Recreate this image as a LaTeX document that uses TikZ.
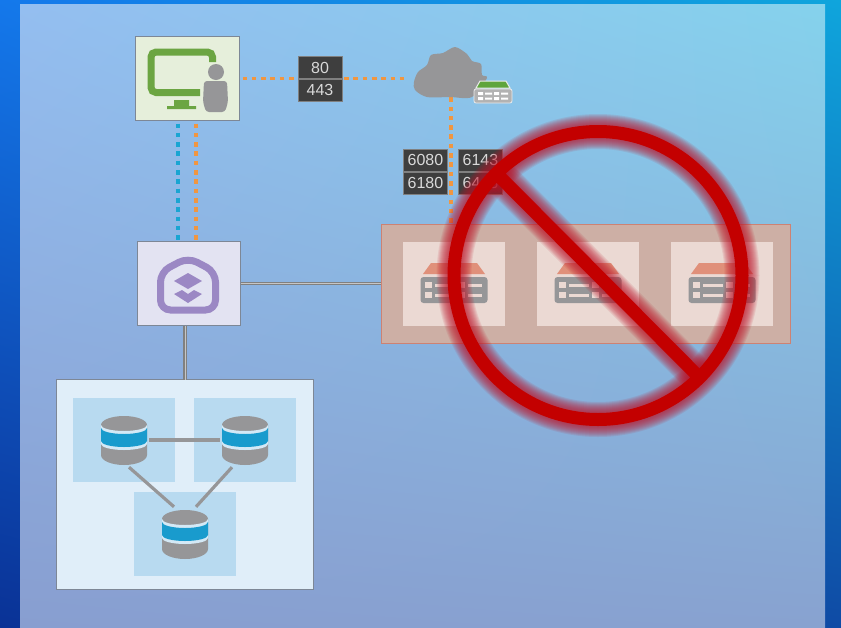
\documentclass[tikz,border=0pt]{standalone}
\usepackage{fontspec}
\setmainfont{Liberation Sans}
\usetikzlibrary{shadings}
\definecolor{outerTL}{RGB}{20,120,235}
\definecolor{outerTR}{RGB}{15,165,220}
\definecolor{outerBL}{RGB}{10,50,150}
\definecolor{outerBR}{RGB}{15,75,165}
\definecolor{panelTL}{RGB}{148,190,240}
\definecolor{panelTR}{RGB}{133,210,236}
\definecolor{panelBL}{RGB}{136,158,208}
\definecolor{panelBR}{RGB}{136,162,208}
\definecolor{iconGray}{RGB}{150,150,152}
\definecolor{edgeGray}{RGB}{125,135,150}
\definecolor{portDark}{RGB}{62,62,62}
\definecolor{portOrange}{RGB}{240,150,65}
\definecolor{portBlue}{RGB}{25,165,210}
\definecolor{dbBlue}{RGB}{25,155,205}
\definecolor{noRed}{RGB}{195,0,0}
\definecolor{glowRed}{RGB}{190,20,40}
\definecolor{tileRed}{RGB}{235,217,211}
\definecolor{roofRed}{RGB}{224,144,122}
\definecolor{tileDb}{RGB}{184,218,240}
\definecolor{clientFill}{RGB}{230,239,219}
\definecolor{gatewayFill}{RGB}{227,227,242}
\definecolor{clusterFill}{RGB}{205,175,165}
\definecolor{clusterEdge}{RGB}{205,130,115}
\definecolor{panelFill}{RGB}{224,238,249}
\definecolor{screenGreen}{RGB}{108,165,66}
\definecolor{roofGreen}{RGB}{95,165,60}
\definecolor{shieldPurple}{RGB}{155,136,196}
\tikzset{
  boxnode/.style={draw=edgeGray, line width=.8pt, inner sep=0pt, outer sep=0pt},
  tile/.style={inner sep=0pt, minimum width=102pt, minimum height=84pt},
  portbox/.style={fill=portDark, draw=gray, line width=.8pt, text=white!85!black, inner sep=0pt, outer sep=0pt,
    minimum width=44pt, minimum height=22pt, font=\fontsize{16}{16}\selectfont},
  orangelink/.style={portOrange, line width=3.8pt, dash pattern=on 4.6pt off 4.7pt},
  bluelink/.style={portBlue, line width=3.8pt, dash pattern=on 4.6pt off 4.7pt},
  solidlink/.style={draw=gray, line width=1.1pt, double=gray!45, double distance=1pt},
  dblink/.style={draw=iconGray, line width=3.2pt},
  dbicon/.pic={
    \fill[iconGray] (-23,-15) -- (-23,15) arc[start angle=180, end angle=0, x radius=23, y radius=10]
      -- (23,-15) arc[start angle=0, end angle=-180, x radius=23, y radius=9] -- cycle;
    \fill[tileDb!60!white] (-23,-15) arc[start angle=180, end angle=0, x radius=23, y radius=6]
      -- (23,4) arc[start angle=0, end angle=180, x radius=23, y radius=6] -- cycle;
    \fill[dbBlue] (-23,-12) arc[start angle=180, end angle=0, x radius=23, y radius=6]
      -- (23,1) arc[start angle=0, end angle=180, x radius=23, y radius=6] -- cycle;
  },
  servericon/.pic={
    \fill[roofRed] (-23,-24) -- (23,-24) -- (31,-13) -- (-31,-13) -- cycle;
    \fill[iconGray, rounded corners=3pt] (-33.5,-10) rectangle (33.5,16);
    \foreach \dx/\len in {0/20,33/14}{
      \fill[tileRed] (-29+\dx,-5) rectangle ++(7,6);
      \fill[tileRed] (-29+\dx,5) rectangle ++(7,6);
      \fill[tileRed] (-19+\dx,-3.5) rectangle ++(\len,3);
      \fill[tileRed] (-19+\dx,6.5) rectangle ++(\len,3);
    }
  }
}
\begin{document}
\begin{tikzpicture}[x=1pt,y=-1pt]
  \useasboundingbox (0,0) rectangle (841,627);
  \shade[upper left=outerTL, upper right=outerTR, lower left=outerBL, lower right=outerBR] (0,0) rectangle (841,627);
  \shade[upper left=panelTL, upper right=panelTR, lower left=panelBL, lower right=panelBR] (20,4) rectangle (825,627);

  \node[boxnode, fill=clientFill, minimum width=104pt, minimum height=84pt] (client) at (187.5,78.5) {};
  \node[boxnode, fill=gatewayFill, minimum width=103pt, minimum height=84pt] (gateway) at (189,283.5) {};
  \node[boxnode, draw=clusterEdge, fill=clusterFill, minimum width=409pt, minimum height=119pt] (cluster) at (585.5,283.5) {};
  \node[boxnode, fill=panelFill, minimum width=257pt, minimum height=210pt] (dbpanel) at (185,484.5) {};

  \node[portbox] (port80) at (320,67.5) {80};
  \node[portbox] (port443) at (320,90) {443};
  \node[portbox] (port6080) at (425.5,160) {6080};
  \node[portbox] (port6180) at (425.5,183) {6180};
  \node[portbox] (port6143) at (480.5,160) {6143};
  \node[portbox] (port6443) at (480.5,183) {6443};
  \node[inner sep=0pt, minimum width=74pt, minimum height=50pt] (cloud) at (451,72) {};

  \draw[orangelink] ([xshift=3pt]client.east) -- (port80.south west);
  \draw[orangelink] ([xshift=2pt]port80.south east) -- ([xshift=-6pt]cloud.west |- port80.south);
  \draw[orangelink] (cloud.south) -- (cloud.south |- cluster.north);
  \draw[bluelink] ([xshift=-9.5pt,yshift=-3pt]client.south) -- ([xshift=-9.5pt]client.south |- gateway.north);
  \draw[orangelink] ([xshift=8.5pt,yshift=-3pt]client.south) -- ([xshift=8.5pt]client.south |- gateway.north);
  \draw[solidlink] (gateway.east) -- (cluster.west |- gateway.east);
  \draw[solidlink] (dbpanel.north |- gateway.south) -- (dbpanel.north);

  % client icon
  \draw[screenGreen, line width=7pt, rounded corners=5pt]
    (212.5,62) -- (212.5,52) -- (151,52) -- (151,92.5) -- (200,92.5);
  \fill[screenGreen] (174,100) rectangle (189,106) (167,106) rectangle (196,109);
  \fill[iconGray] (216,72) circle[radius=8];
  \fill[iconGray, rounded corners=3pt] (204,81) -- (227,81) -- (228,102) -- (225,112) -- (206,112) -- (203,102) -- cycle;

  % cloud icon
  \fill[iconGray] plot[smooth cycle, tension=.5] coordinates {(427,97) (415,90) (414,82) (418,72) (427,65) (431,55) (443,53) (455,47) (467,54) (472,61) (481,64) (482,75) (487,78) (472,97) (450,97)};
  \fill[roofGreen, draw=white!85!gray, line width=1pt] (480,81) -- (506,81) -- (510,88) -- (476,88) -- cycle;
  \fill[gray!60, draw=white!85!gray, line width=.8pt, rounded corners=2pt] (474,89) rectangle (512,103);
  \foreach \x in {478,494}{
    \fill[white] (\x,92) rectangle ++(5,3) (\x,97) rectangle ++(5,3);
    \fill[white] (\x+7,92.5) rectangle ++(7,2) (\x+7,97.5) rectangle ++(7,2);
  }

  % gateway icon
  \draw[shieldPurple, line width=7pt, rounded corners=10pt] (188,257.5) -- (215.5,272) -- (215.5,310) -- (160.5,310) -- (160.5,272) -- cycle;
  \fill[shieldPurple] (174,281) -- (188,273) -- (202,281) -- (188,289) -- cycle;
  \fill[shieldPurple] (174,294) -- (182,290) -- (188,294) -- (194,290) -- (202,294) -- (188,303) -- cycle;

  % server tiles
  \foreach \n/\x in {a/454,b/588,c/722}{
    \node[tile, fill=tileRed] (srv\n) at (\x,284) {};
    \pic at (\x,287) {servericon};
  }

  % database tiles
  \foreach \n/\x/\y in {a/124/440,b/245/440,c/185/534}{
    \node[tile, fill=tileDb] (tile\n) at (\x,\y) {};
    \pic at (\x,\y) {dbicon};
    \node[inner sep=0pt, minimum width=50pt, minimum height=54pt] (db\n) at (\x,\y) {};
  }
  \draw[dblink] (dba) -- (dbb);
  \draw[dblink] ([xshift=5pt]dba.south) -- ([xshift=-11pt]dbc.north);
  \draw[dblink] ([xshift=-13pt]dbb.south) -- ([xshift=11pt]dbc.north);

  % no sign
  \coordinate (barA) at (497,174);
  \coordinate (barB) at (699,377);
  \foreach \w in {35,33,...,15}{
    \draw[glowRed, opacity=.1, line width=\w pt] (598,275.5) circle[radius=144];
    \draw[glowRed, opacity=.1, line width=\w pt] (barA) -- (barB);
  }
  \draw[noRed, line width=13pt] (598,275.5) circle[radius=144];
  \draw[noRed, line width=13pt] (barA) -- (barB);
\end{tikzpicture}
\end{document}
